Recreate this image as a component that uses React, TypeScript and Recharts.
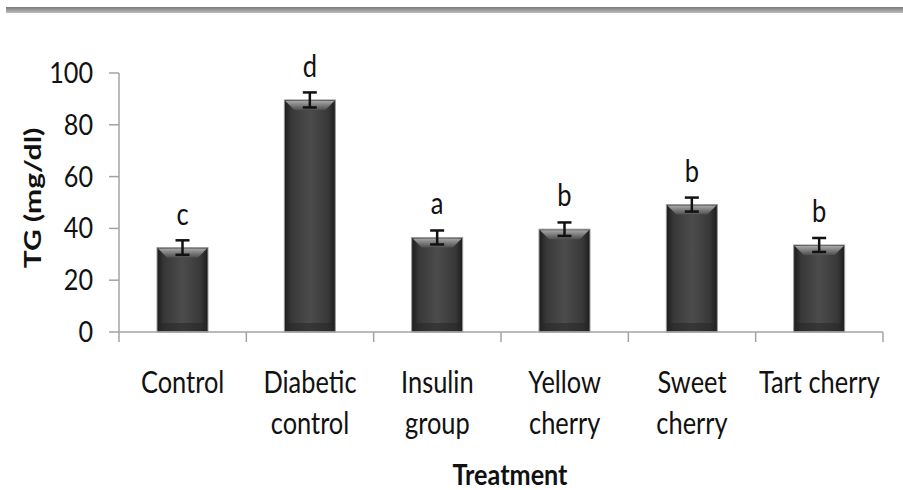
import React from "react";
import {
  BarChart,
  Bar,
  XAxis,
  YAxis,
  ErrorBar,
  LabelList,
  Label,
} from "recharts";

const categories = [
  "Control",
  "Diabetic control",
  "Insulin group",
  "Yellow cherry",
  "Sweet cherry",
  "Tart cherry",
];
const labelLines = [
  ["Control"],
  ["Diabetic", "control"],
  ["Insulin", "group"],
  ["Yellow", "cherry"],
  ["Sweet", "cherry"],
  ["Tart cherry"],
];
const tgMeans = [32.6, 89.6, 36.5, 39.7, 49.2, 33.6];
const tgErrors = [2.8, 2.9, 2.7, 2.6, 2.7, 2.7];
const letters = ["c", "d", "a", "b", "b", "b"];
const yTicks = [0, 20, 40, 60, 80, 100];

const data = categories.map((name, i) => ({
  name,
  tg: tgMeans[i],
  err: tgErrors[i],
  letter: letters[i],
}));

const W = 903;
const H = 490;
const MARGIN = { top: 73, right: 20, bottom: 0, left: 0 };
const Y_AXIS_W = 119;
const FONT = "Lato, 'Open Sans', sans-serif";
const AXIS_COLOR = "#a3a3a3";
const INK = "#111";
const STEP = (W - MARGIN.left - MARGIN.right - Y_AXIS_W) / categories.length;

// the original text is a narrow face, so squeeze it horizontally
const SqText = ({ x, y, sx = 0.8, anchor = "middle", size = 30, weight = "normal", children }: any) => (
  <text
    transform={`translate(${x},${y}) scale(${sx},1)`}
    x={0}
    y={0}
    textAnchor={anchor}
    fontSize={size}
    fontWeight={weight}
    fontFamily={FONT}
    fill={INK}
  >
    {children}
  </text>
);

const BevelBar = (props: any) => {
  const { x, y, width, height, index } = props;
  if (!height || height <= 0) return null;
  const b = 10;
  return (
    <g>
      <defs>
        <linearGradient id={`side-${index}`} x1="0" y1="0" x2="1" y2="0">
          <stop offset="0%" stopColor="#1c1c1c" />
          <stop offset="14%" stopColor="#383838" />
          <stop offset="50%" stopColor="#4c4c4c" />
          <stop offset="86%" stopColor="#383838" />
          <stop offset="100%" stopColor="#1c1c1c" />
        </linearGradient>
        <linearGradient id={`top-${index}`} x1="0" y1="0" x2="0" y2="1">
          <stop offset="0%" stopColor="#a8a8a8" />
          <stop offset="100%" stopColor="#4f4f4f" />
        </linearGradient>
      </defs>
      <rect
        x={x}
        y={y}
        width={width}
        height={height}
        fill={`url(#side-${index})`}
        stroke="#9a9a9a"
        strokeWidth={1}
      />
      <polygon
        points={`${x + 1},${y + 1} ${x + width - 1},${y + 1} ${x + width - b},${y + b} ${x + b},${y + b}`}
        fill={`url(#top-${index})`}
      />
      <rect x={x + 1} y={y + height - 9} width={width - 2} height={8} fill="#262626" opacity={0.55} />
    </g>
  );
};

const CategoryTick = (props: any) => {
  const { x, y, index } = props;
  const lines = labelLines[index] || [];
  const left = x - STEP / 2;
  return (
    <g>
      <line x1={left} y1={y} x2={left} y2={y + 10} stroke={AXIS_COLOR} strokeWidth={1.5} />
      {index === categories.length - 1 && (
        <line x1={x + STEP / 2} y1={y} x2={x + STEP / 2} y2={y + 10} stroke={AXIS_COLOR} strokeWidth={1.5} />
      )}
      {lines.map((ln: string, i: number) => (
        <SqText key={i} x={x} y={y + 61 + i * 41} sx={0.82} size={31}>
          {ln}
        </SqText>
      ))}
    </g>
  );
};

const ValueTick = (props: any) => {
  const { x, y, payload } = props;
  return (
    <SqText x={x} y={y + 10} sx={0.9} size={28} anchor="end">
      {payload.value}
    </SqText>
  );
};

const LetterLabel = (props: any) => {
  const { x, y, width, value } = props;
  return (
    <SqText x={x + width / 2} y={y - 23} sx={0.85} size={30}>
      {value}
    </SqText>
  );
};

const YTitle = () => (
  <text
    transform="translate(32,198) rotate(-90) scale(1,0.78)"
    x={0}
    y={0}
    textAnchor="middle"
    dominantBaseline="central"
    fontSize={30}
    fontWeight="bold"
    fontFamily={FONT}
    fill={INK}
  >
    TG (mg/dl)
  </text>
);

const XTitle = () => (
  <SqText x={510} y={485} sx={0.9} size={28} weight="bold">
    Treatment
  </SqText>
);

export default function App() {
  return (
    <div
      style={{
        position: "absolute",
        left: 0,
        top: 0,
        width: W,
        height: H,
        background: "#fff",
        fontFamily: FONT,
      }}
    >
      <div
        style={{
          position: "absolute",
          left: 6,
          top: 7,
          width: W - 6,
          height: 6,
          background: "linear-gradient(#7a7a7a, #bdbdbd)",
        }}
      />
      <BarChart width={W} height={H} data={data} margin={MARGIN} barCategoryGap={0}>
        <YAxis
          width={Y_AXIS_W}
          domain={[0, 100]}
          ticks={yTicks}
          interval={0}
          tickSize={10}
          tickMargin={16}
          axisLine={{ stroke: AXIS_COLOR, strokeWidth: 1.5 }}
          tickLine={{ stroke: AXIS_COLOR, strokeWidth: 1.5 }}
          tick={<ValueTick />}
        >
          <Label content={<YTitle />} />
        </YAxis>
        <XAxis
          dataKey="name"
          height={H - 332}
          interval={0}
          tickSize={0}
          tickMargin={0}
          tickLine={false}
          axisLine={{ stroke: AXIS_COLOR, strokeWidth: 1.5 }}
          tick={<CategoryTick />}
        >
          <Label content={<XTitle />} />
        </XAxis>
        <Bar dataKey="tg" barSize={51} shape={<BevelBar />} isAnimationActive={false}>
          <ErrorBar dataKey="err" width={7} strokeWidth={2.5} stroke={INK} />
          <LabelList dataKey="letter" content={<LetterLabel />} />
        </Bar>
      </BarChart>
    </div>
  );
}
